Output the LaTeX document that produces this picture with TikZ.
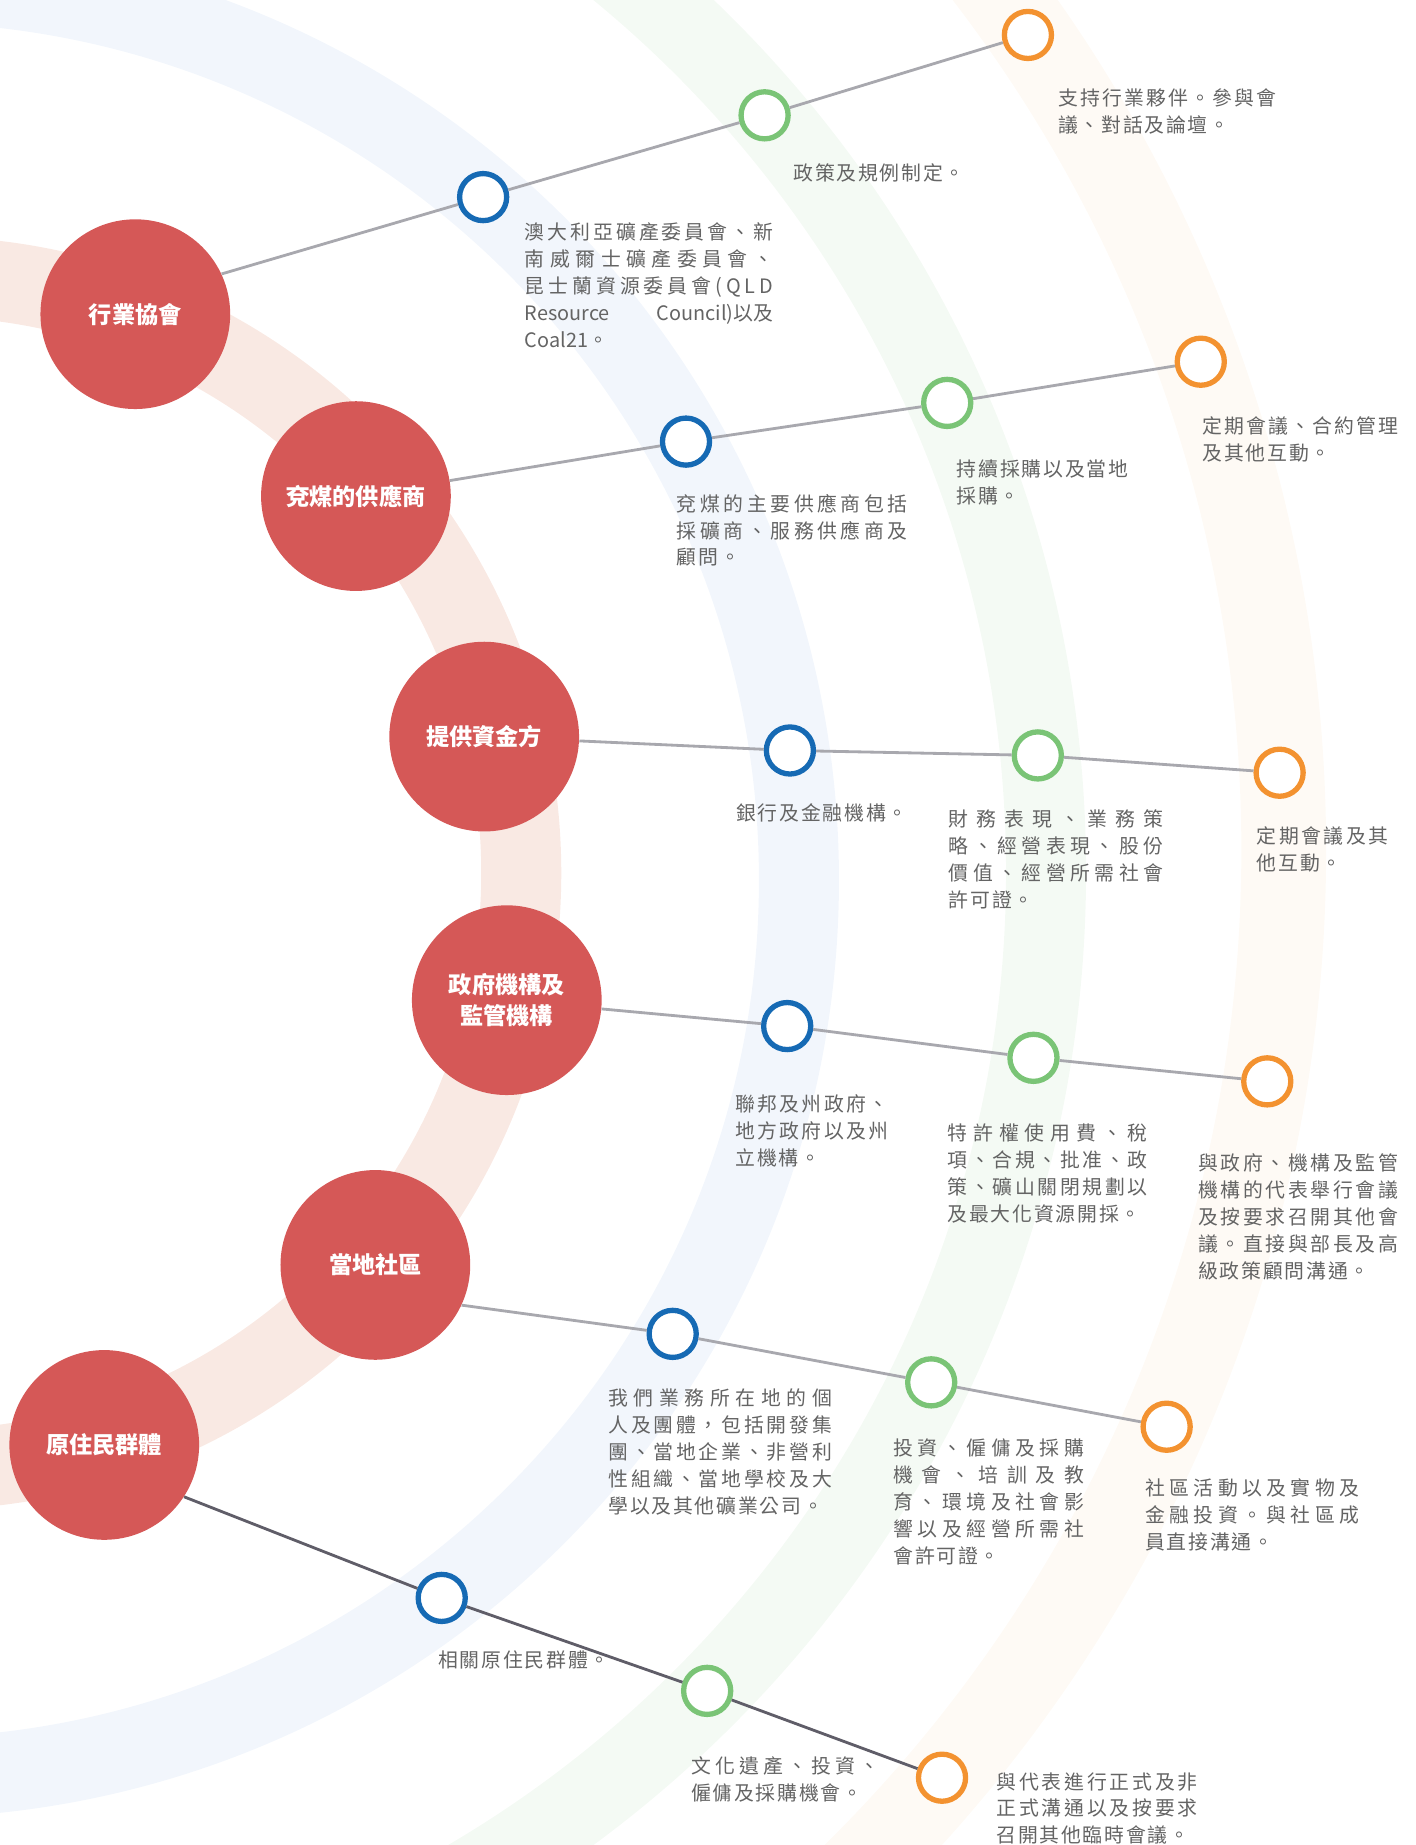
\documentclass[tikz,border=0pt]{standalone}
\usepackage{fontspec}
\setmainfont{Noto Sans CJK TC}
\newfontfamily\notefont{Noto Sans CJK TC}[LetterSpace=9]
\newfontfamily\latinfont{Noto Sans CJK TC}
\usepackage{tikz}

\definecolor{grpred}{RGB}{213,88,87}
\definecolor{ringblue}{RGB}{22,106,180}
\definecolor{ringgreen}{RGB}{122,196,118}
\definecolor{ringorange}{RGB}{243,146,48}
\definecolor{linegray}{RGB}{168,168,174}
\definecolor{linedark}{RGB}{95,93,104}
\definecolor{notegray}{RGB}{100,100,100}
\definecolor{bandpeach}{RGB}{249,233,227}
\definecolor{bandblue}{RGB}{242,246,252}
\definecolor{bandgreen}{RGB}{244,250,244}
\definecolor{bandorange}{RGB}{254,250,245}

\newcommand\jl[1]{\makebox[\linewidth][s]{\jlfirst#1\relax}\\}
\def\jlfirst#1{#1\jlrest}
\def\jlrest#1{\ifx\relax#1\else\hfil#1\expandafter\jlrest\fi}

\begin{document}
\begin{tikzpicture}[x=0.025cm, y=-0.025cm,
  grp/.style={circle, fill=grpred, inner sep=0pt, minimum size=4.03cm, text=white,
    font=\bfseries\fontsize{14}{19}\selectfont, align=center},
  ring/.style={circle, draw=#1, fill=white, line width=3.2pt, minimum size=1cm, inner sep=0pt},
  link/.style={draw=linegray, line width=1.7pt},
  note/.style={anchor=base west, inner sep=0pt, text=notegray, align=left,
    font=\notefont\fontsize{12}{16.3}\selectfont},
  band/.style={draw=#1, line width=1.7cm}]

  \useasboundingbox (0,0) rectangle (1203,1568);
  \clip (0,0) rectangle (1203,1568);

  \draw[band=bandpeach] (-64,742) circle (507);
  \draw[band=bandblue] (-84,748) circle (763);
  \draw[band=bandgreen] (-103,741) circle (992);
  \draw[band=bandorange, line width=1.8cm] (-131,722.5) circle (1222);

  \node[grp] (ind) at (115,267) {行業協會};
  \node[grp] (sup) at (302.5,421.6) {兗煤的供應商};
  \node[grp] (fin) at (411.5,626) {提供資金方};
  \node[grp] (gov) at (430.7,850) {政府機構及\\監管機構};
  \node[grp] (com) at (319,1075) {當地社區};
  \node[grp] (abo) at (88.6,1228) {原住民群體};

  \node[ring=ringblue] (indB) at (410.6,167.5) {};
  \node[ring=ringgreen] (indG) at (649.8,98) {};
  \node[ring=ringorange] (indO) at (873.6,29.7) {};
  \node[ring=ringblue] (supB) at (583,375.3) {};
  \node[ring=ringgreen] (supG) at (805,342.4) {};
  \node[ring=ringorange] (supO) at (1020.5,307.4) {};
  \node[ring=ringblue] (finB) at (671.3,637.8) {};
  \node[ring=ringgreen] (finG) at (882,642) {};
  \node[ring=ringorange] (finO) at (1087.5,656.7) {};
  \node[ring=ringblue] (govB) at (669,872) {};
  \node[ring=ringgreen] (govG) at (878.3,899) {};
  \node[ring=ringorange] (govO) at (1077,919) {};
  \node[ring=ringblue] (comB) at (571.7,1133.6) {};
  \node[ring=ringgreen] (comG) at (791.4,1174.8) {};
  \node[ring=ringorange] (comO) at (991.5,1212.5) {};
  \node[ring=ringblue] (aboB) at (375.4,1358) {};
  \node[ring=ringgreen] (aboG) at (601,1437) {};
  \node[ring=ringorange] (aboO) at (800.6,1510.8) {};

  \draw[link] (ind.25) -- (indB) -- (indG) -- (indO);
  \draw[link] (sup) -- (supB) -- (supG) -- (supO);
  \draw[link] (fin) -- (finB) -- (finG) -- (finO);
  \draw[link] (gov) -- (govB) -- (govG) -- (govO);
  \draw[link] (com.-25) -- (comB) -- (comG) -- (comO);
  \draw[link, draw=linedark] (abo.-33) -- (aboB) -- (aboG) -- (aboO);

  \node[note, text width=5.275cm] (indBt) at (445.8,203.3) {\jl{澳大利亞礦產委員會、新}\jl{南威爾士礦產委員會、}\jl{昆士蘭資源委員會(QLD}\makebox[\linewidth][s]{\latinfont Resource\hfil Council)以及}\\{\latinfont Coal21}。};
  \node[note] (indGt) at (674,153) {政策及規例制定。};
  \node[note, text width=4.625cm] (indOt) at (899,90) {\jl{支持行業夥伴。參與會}議、對話及論壇。};

  \node[note, text width=4.9cm] (supBt) at (575,434.3) {\jl{兗煤的主要供應商包括}\jl{採礦商、服務供應商及}顧問。};
  \node[note, text width=3.65cm] (supGt) at (812.7,405) {\jl{持續採購以及當地}採購。};
  \node[note, text width=4.15cm] (supOt) at (1021.8,368.8) {\jl{定期會議、合約管理}及其他互動。};

  \node[note] (finBt) at (625.5,697.5) {銀行及金融機構。};
  \node[note, text width=4.55cm] (finGt) at (806.2,702.5) {\jl{財務表現、業務策}\jl{略、經營表現、股份}\jl{價值、經營所需社會}許可證。};
  \node[note, text width=2.8cm] (finOt) at (1067.8,717) {\jl{定期會議及其}他互動。};

  \node[note, text width=3.25cm] (govBt) at (624.7,944.4) {\jl{聯邦及州政府、}\jl{地方政府以及州}立機構。};
  \node[note, text width=4.25cm] (govGt) at (805,969.6) {\jl{特許權使用費、稅}\jl{項、合規、批准、政}\jl{策、礦山關閉規劃以}及最大化資源開採。};
  \node[note, text width=4.25cm] (govOt) at (1018,994.8) {\jl{與政府、機構及監管}\jl{機構的代表舉行會議}\jl{及按要求召開其他會}\jl{議。直接與部長及高}級政策顧問溝通。};

  \node[note, text width=4.75cm] (comBt) at (516.8,1194.3) {\jl{我們業務所在地的個}\jl{人及團體，包括開發集}\jl{團、當地企業、非營利}\jl{性組織、當地學校及大}學以及其他礦業公司。};
  \node[note, text width=4.05cm] (comGt) at (759,1236.8) {\jl{投資、僱傭及採購}\jl{機會、培訓及教}\jl{育、環境及社會影}\jl{響以及經營所需社}會許可證。};
  \node[note, text width=4.55cm] (comOt) at (973,1271.3) {\jl{社區活動以及實物及}\jl{金融投資。與社區成}員直接溝通。};

  \node[note] (aboBt) at (372.2,1417.2) {相關原住民群體。};
  \node[note, text width=4cm] (aboGt) at (587,1507.4) {\jl{文化遺產、投資、}僱傭及採購機會。};
  \node[note, text width=4.275cm] (aboOt) at (846.5,1520.4) {\jl{與代表進行正式及非}\jl{正式溝通以及按要求}召開其他臨時會議。};
\end{tikzpicture}
\end{document}
